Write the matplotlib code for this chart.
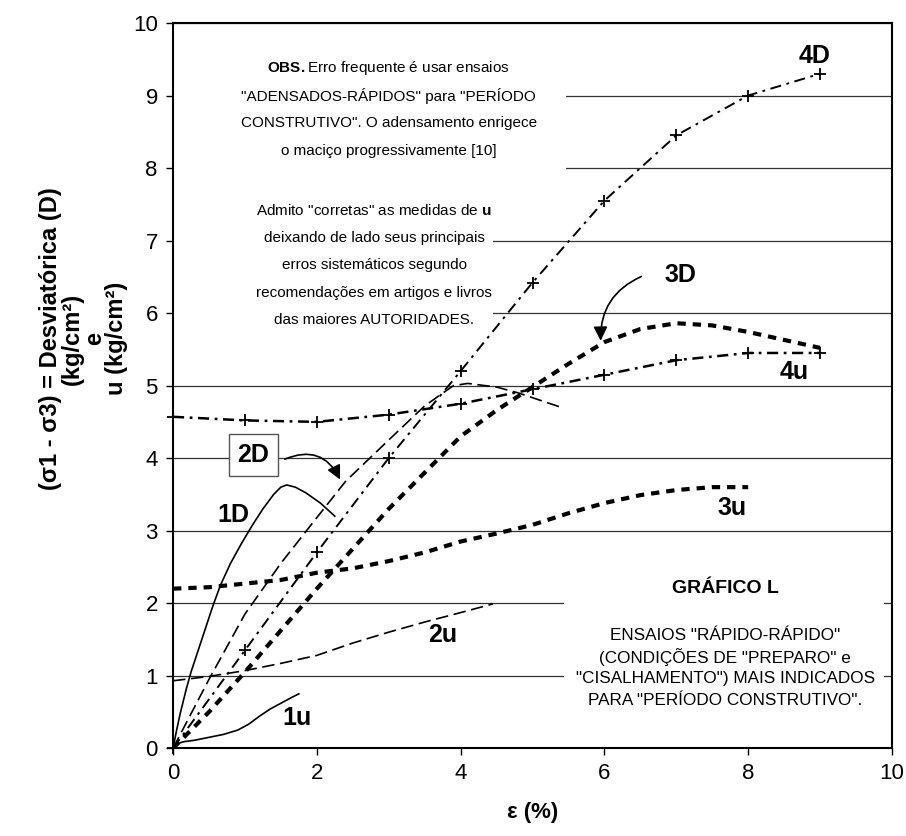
import numpy as np
import matplotlib.pyplot as plt
from matplotlib.patches import Rectangle

plt.rcParams['font.family'] = ['Liberation Sans', 'DejaVu Sans']
plt.rcParams['mathtext.fontset'] = 'custom'
plt.rcParams['mathtext.rm'] = 'Liberation Sans'
plt.rcParams['mathtext.bf'] = 'Liberation Sans:bold'
plt.rcParams['lines.scale_dashes'] = False

# strain (%) and stress / pore pressure (kg/cm2)
x_1d = [0, 0.05, 0.1, 0.18, 0.25, 0.35, 0.45, 0.55, 0.66, 0.8, 0.95, 1.1, 1.25, 1.4, 1.5,
        1.58, 1.7, 1.85, 2.05, 2.25]
y_1d = [0, 0.25, 0.48, 0.8, 1.05, 1.35, 1.65, 1.95, 2.25, 2.55, 2.82, 3.07, 3.3, 3.5, 3.6,
        3.63, 3.6, 3.52, 3.38, 3.2]

x_1u = [0, 0.05, 0.15, 0.3, 0.5, 0.7, 0.9, 1.05, 1.2, 1.35, 1.5, 1.65, 1.75]
y_1u = [0, 0.06, 0.09, 0.11, 0.15, 0.19, 0.25, 0.33, 0.44, 0.54, 0.62, 0.7, 0.75]

x_2d = [0, 0.5, 1.0, 1.5, 2.0, 2.4, 3.0, 3.5, 3.9, 4.1, 4.5, 4.8, 5.1, 5.4]
y_2d = [0, 0.95, 1.85, 2.55, 3.18, 3.68, 4.25, 4.72, 5.0, 5.03, 4.98, 4.9, 4.8, 4.7]

x_2u = [0, 0.5, 1.0, 1.5, 2.0, 2.5, 3.0, 3.5, 4.0, 4.45]
y_2u = [0.93, 0.99, 1.07, 1.17, 1.28, 1.45, 1.6, 1.74, 1.87, 1.99]

x_3d = [0, 0.5, 1, 2, 3, 4, 4.5, 5, 5.5, 6, 6.5, 7, 7.5, 8, 8.5, 9]
y_3d = [0, 0.5, 1.05, 2.2, 3.3, 4.3, 4.66, 4.98, 5.3, 5.6, 5.78, 5.86, 5.83, 5.74, 5.63, 5.52]

x_3u = [0, 0.5, 1, 1.5, 2, 2.5, 3, 3.5, 4, 4.5, 5, 5.5, 6, 6.5, 7, 7.5, 8]
y_3u = [2.2, 2.22, 2.27, 2.32, 2.42, 2.48, 2.58, 2.7, 2.85, 2.96, 3.08, 3.24, 3.38, 3.49, 3.56, 3.6, 3.6]

x_4 = [0, 1, 2, 3, 4, 5, 6, 7, 8, 9]
y_4d = [0, 1.35, 2.7, 4.0, 5.2, 6.42, 7.55, 8.45, 9.0, 9.3]
y_4u = [4.57, 4.52, 4.50, 4.6, 4.75, 4.95, 5.15, 5.35, 5.45, 5.45]

obs_lines = [
    r'$\bf{OBS.}$Erro frequente é usar ensaios',
    '"ADENSADOS-RÁPIDOS" para "PERÍODO',
    'CONSTRUTIVO". O adensamento enrigece',
    'o maciço progressivamente [10]',
]
admito_lines = [
    r'Admito "corretas" as medidas de $\bf{u}$',
    'deixando de lado seus principais',
    'erros sistemáticos segundo',
    'recomendações em artigos e livros',
    'das maiores AUTORIDADES.',
]
ensaios_lines = [
    'ENSAIOS "RÁPIDO-RÁPIDO"',
    '(CONDIÇÕES DE "PREPARO" e',
    '"CISALHAMENTO") MAIS INDICADOS',
    'PARA "PERÍODO CONSTRUTIVO".',
]

fig = plt.figure(figsize=(9.06, 8.36), dpi=100)
ax = fig.add_axes([0.191, 0.105, 0.7935, 0.8675])

ax.set_xlim(0, 10)
ax.set_ylim(0, 10)
ax.set_xticks(np.arange(0, 11, 2))
ax.set_yticks(np.arange(0, 11, 1))
ax.set_axisbelow(True)
ax.grid(axis='y', color='#333333', lw=0.9)
ax.tick_params(labelsize=16, length=5, width=1, pad=6)
for s in ax.spines.values():
    s.set_linewidth(1.5)

# white text boxes hide the gridlines behind the notes
for (x0, y0, w, h) in [(0, 7.75, 5.47, 2.0), (0, 5.75, 4.45, 1.95), (5.44, 0.3, 4.45, 2.3)]:
    ax.add_patch(Rectangle((x0, y0), w, h, facecolor='white', edgecolor='none', zorder=1))

ax.plot(x_1d, y_1d, color='black', lw=1.2, zorder=3)
ax.plot(x_1u, y_1u, color='black', lw=1.2, zorder=3)
ax.plot(x_2d, y_2d, color='black', lw=1.2, dashes=(9, 4), zorder=3)
ax.plot(x_2u, y_2u, color='black', lw=1.2, dashes=(9, 4), zorder=3)
ax.plot(x_3d, y_3d, color='black', lw=3, dashes=(6, 5), zorder=3)
ax.plot(x_3u, y_3u, color='black', lw=3, dashes=(6, 5), zorder=3)
ax.plot(x_4, y_4d, color='black', lw=1.4, dashes=(8, 4, 2, 4), marker='+', ms=9, mew=1.3,
        clip_on=False, zorder=3)
ax.plot(x_4, y_4u, color='black', lw=1.8, dashes=(8, 4, 2, 4), marker='+', ms=9, mew=1.3,
        clip_on=False, zorder=3)

lab = dict(fontsize=18, fontweight='bold', ha='center', va='center', zorder=4)
ax.text(0.84, 3.21, '1D', **lab)
ax.text(1.72, 0.41, '1u', **lab)
ax.text(3.75, 1.56, '2u', **lab)
ax.text(7.78, 3.31, '3u', **lab)
ax.text(8.92, 9.54, '4D', **lab)
ax.text(8.64, 5.19, '4u', **lab)
ax.text(7.06, 6.52, '3D', **lab)
ax.text(1.115, 4.04, '2D', bbox=dict(boxstyle='square,pad=0.35', fc='white', ec='#555555', lw=1), **lab)

arr = dict(arrowstyle='-|>,head_length=0.6,head_width=0.3', color='black', lw=1.2, mutation_scale=14)
ax.annotate('', xy=(2.34, 3.67), xytext=(1.52, 3.97),
            arrowprops=dict(connectionstyle='arc3,rad=-0.5', **arr), zorder=4)
ax.annotate('', xy=(5.95, 5.58), xytext=(6.55, 6.52),
            arrowprops=dict(connectionstyle='arc3,rad=0.35', **arr), zorder=4)

for i, line in enumerate(obs_lines):
    ax.text(3.0, 9.38 - i * 0.38, line, fontsize=11, ha='center', va='center', zorder=4)
for i, line in enumerate(admito_lines):
    ax.text(2.8, 7.42 - i * 0.38, line, fontsize=11, ha='center', va='center', zorder=4)
ax.text(7.68, 2.2, 'GRÁFICO L', fontsize=14, fontweight='bold', ha='center', va='center', zorder=4)
for i, line in enumerate(ensaios_lines):
    ax.text(7.68, 1.56 - i * 0.30, line, fontsize=12.3, ha='center', va='center', zorder=4)

ax.set_xlabel('ε (%)', fontsize=16, fontweight='bold', va='center')
ax.xaxis.set_label_coords(0.5, -0.088)
ax.set_ylabel('(σ1 - σ3) = Desviatórica (D)\n(kg/cm²)\ne\nu (kg/cm²)', fontsize=17,
              fontweight='bold', va='center', linespacing=0.95)
ax.yaxis.set_label_coords(-0.125, 0.565)

fig.savefig('out.png', dpi=100)
